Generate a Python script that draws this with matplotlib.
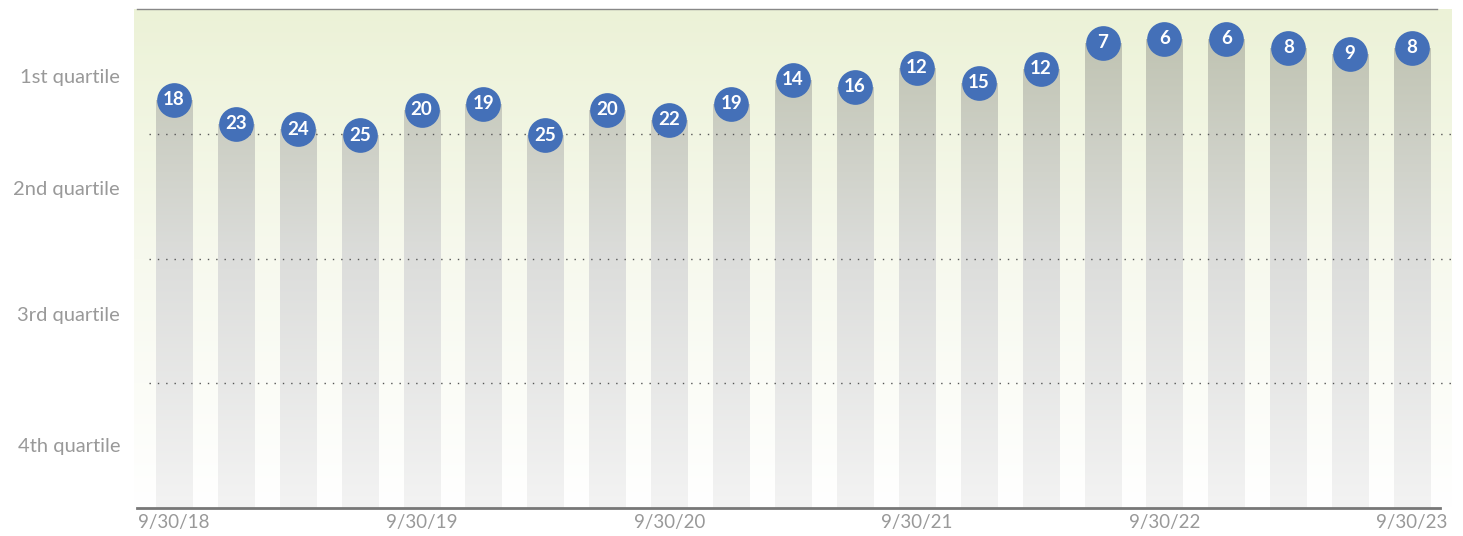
import matplotlib
matplotlib.use("Agg")
import matplotlib.pyplot as plt
import numpy as np
from matplotlib.colors import LinearSegmentedColormap

# ---- data ----
dates = ["9/30/18", "12/31/18", "3/31/19", "6/30/19", "9/30/19", "12/31/19", "3/31/20",
         "6/30/20", "9/30/20", "12/31/20", "3/31/21", "6/30/21", "9/30/21", "12/31/21",
         "3/31/22", "6/30/22", "9/30/22", "12/31/22", "3/31/23", "6/30/23", "9/30/23"]
ranks = [18, 23, 24, 25, 20, 19, 25, 20, 22, 19, 14, 16, 12, 15, 12, 7, 6, 6, 8, 9, 8]
percentiles = [81.8, 77.0, 75.9, 74.7, 79.8, 81.0, 74.7, 79.8, 77.8, 81.0, 85.8, 84.4,
               88.2, 85.2, 88.0, 93.2, 94.0, 94.0, 92.2, 91.0, 92.2]
tick_labels = ["9/30/18", "9/30/19", "9/30/20", "9/30/21", "9/30/22", "9/30/23"]
quartile_labels = ["1st quartile", "2nd quartile", "3rd quartile", "4th quartile"]
quartile_label_pos = [86.6, 64.1, 38.9, 12.6]
quartile_lines = [25, 50, 75]

plt.rcParams['font.family'] = ['Lato', 'DejaVu Sans']

fig = plt.figure(figsize=(14.63, 5.36), dpi=100)
ax = fig.add_axes([134 / 1463, 28 / 536, 1318 / 1463, 499 / 536])
x = np.arange(len(dates))
xlim = (-0.646, len(dates) - 1 + 0.646)
ax.set_xlim(*xlim)
ax.set_ylim(0, 100)

# background gradient
bg_cmap = LinearSegmentedColormap.from_list("bg", ["#FFFFFF", "#F7F9EE", "#ECF2D7"])
grad = np.linspace(0, 1, 256).reshape(-1, 1)
ax.imshow(grad, extent=[xlim[0], xlim[1], 0, 100], origin="lower",
          aspect="auto", cmap=bg_cmap, zorder=0)

# bars with gradient
bar_cmap = LinearSegmentedColormap.from_list("bar", ["#F3F3F3", "#DCDDDB", "#BCC0AD"])
bars = ax.bar(x, percentiles, width=36 / 61.9, color="none", edgecolor="none", zorder=2)
for b in bars:
    im = ax.imshow(grad, extent=[xlim[0], xlim[1], 0, 100], origin="lower",
                   aspect="auto", cmap=bar_cmap, zorder=2)
    im.set_clip_path(b)

ax.set_xlim(*xlim)
ax.set_ylim(0, 100)

# dotted quartile lines
for q in quartile_lines:
    ax.plot([-0.4, xlim[1]], [q, q], linestyle=(0, (1, 5)), color="#555555",
            linewidth=1.0, zorder=3)

# circles with ranks
ax.plot(x, percentiles, "o", markersize=25, color="#4470B8", markeredgecolor="none", zorder=4)
for xi, p, r in zip(x, percentiles, ranks):
    ax.text(xi, p, str(r), ha="center", va="center", color="white", fontsize=13.5,
            fontweight="bold", zorder=5)

# top and bottom lines
ax.plot([-0.6, 20.4], [100, 100], color="#888888", linewidth=1.0, zorder=3, clip_on=False)
ax.plot([-0.6, 20.45], [0, 0], color="#777777", linewidth=2.0, zorder=3, clip_on=False)

for s in ax.spines.values():
    s.set_visible(False)

ax.set_xticks([x[dates.index(t)] for t in tick_labels])
ax.set_xticklabels(tick_labels, color="#999999", fontsize=13.5)
ax.set_yticks(quartile_label_pos)
ax.set_yticklabels(quartile_labels, color="#999999", fontsize=14.5)
ax.tick_params(axis="both", length=0)
ax.tick_params(axis="y", pad=10)
ax.tick_params(axis="x", pad=4)

fig.savefig("out.png", dpi=100)
